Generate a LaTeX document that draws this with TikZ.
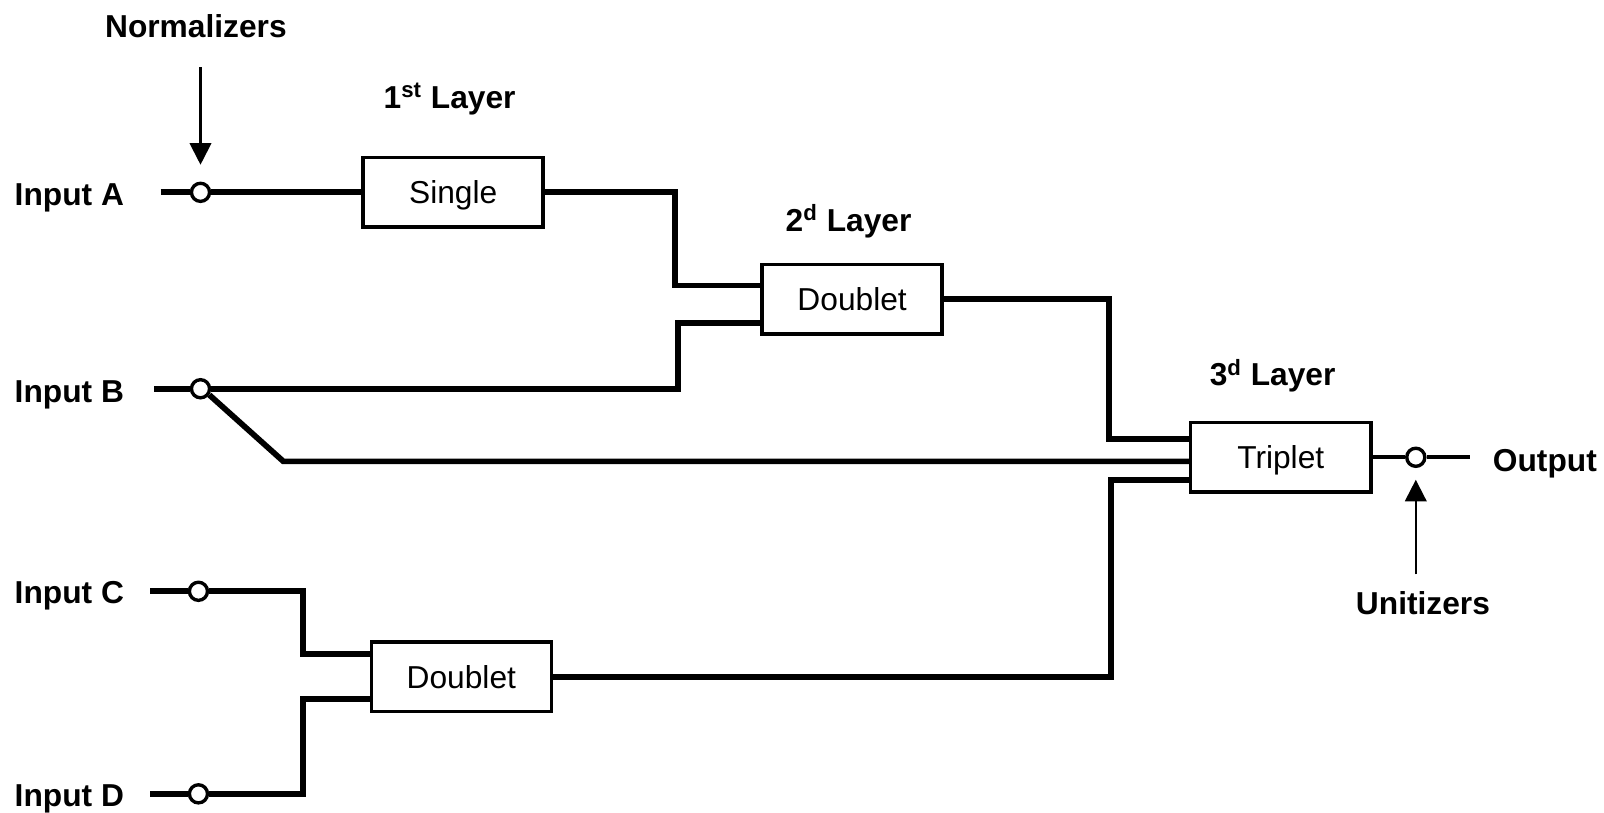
\documentclass[tikz,border=0pt]{standalone}
\usepackage{fontspec}
\setmainfont{Liberation Sans}
\usetikzlibrary{arrows.meta,calc}
\begin{document}
\begin{tikzpicture}[x=0.5pt,y=-0.5pt,
  wire/.style={line width=2.8pt},
  thinwire/.style={line width=1.8pt},
  block/.style={draw,line width=1.7pt,minimum width=88pt,minimum height=34pt,
    inner sep=0pt,text height=11.1pt,text depth=0pt,font=\fontsize{15.5}{18}\selectfont},
  port/.style={circle,draw,line width=1.65pt,fill=white,minimum size=8.85pt,inner sep=0pt},
  lbl/.style={font=\fontsize{15.5}{18}\selectfont\bfseries,inner sep=0pt,
    text height=11.1pt,text depth=0pt},
  pointer/.style={line width=1pt,-{Triangle[width=10.5pt,length=10.5pt]}}
]
\useasboundingbox (0,0) rectangle (1568,794);

% processing blocks
\node[block] (single) at (443,188)   {Single};
\node[block] (dblA)   at (833,292.5) {Doublet};
\node[block] (trip)   at (1252,447)  {Triplet};
\node[block] (dblB)   at (451,661.5) {Doublet};

% normalizer / unitizer ports
\node[port] (pA) at (196,188) {};
\node[port] (pB) at (196,380) {};
\node[port] (pC) at (194,578) {};
\node[port] (pD) at (194,776) {};
\node[port] (pO) at (1384,447) {};

% labels
\node[lbl,anchor=west] (inA) at (14,190) {Input A};
\node[lbl,anchor=west] (inB) at (14,382) {Input B};
\node[lbl,anchor=west] (inC) at (14,579) {Input C};
\node[lbl,anchor=west] (inD) at (14,777) {Input D};
\node[lbl,anchor=west] (out) at (1459,450) {Output};
\node[lbl] (norm) at (191.5,26) {Normalizers};
\node[lbl] (unit) at (1391,590) {Unitizers};
\node[lbl] (lay1) at (439.5,95) {1\textsuperscript{st} Layer};
\node[lbl] (lay2) at (829.5,215) {2\textsuperscript{d} Layer};
\node[lbl] (lay3) at (1244,366) {3\textsuperscript{d} Layer};

% free wire ends
\coordinate (sA) at (157,188);
\coordinate (sB) at (151,380);
\coordinate (sC) at (147,578);
\coordinate (sD) at (147,776);
\coordinate (eO) at (1437,447);

% input wires
\draw[wire] (sA) -- (pA);
\draw[wire] (sB) -- (pB);
\draw[wire] (sC) -- (pC);
\draw[wire] (sD) -- (pD);

% first layer
\draw[wire] (pA) -- (single);

% second layer
\draw[wire] (single.east) -| (660,279) -- ($(dblA.west)+(0,-13.5)$);
\draw[wire] (pB) -- (663,380) |- ($(dblA.west)+(0,23.5)$);
\draw[wire] (pC) -- (296,578) |- ($(dblB.west)+(0,-22.5)$);
\draw[wire] (pD) -- (296,776) |- ($(dblB.west)+(0,21.5)$);

% third layer
\draw[wire] (dblA.east) -| (1084,429) -- ($(trip.west)+(0,-18)$);
\draw[wire] (pB.-35) -- (277,451) -- ($(trip.west)+(0,4)$);
\draw[wire] (dblB.east) -| (1086,469) -- ($(trip.west)+(0,22)$);

% output
\draw[thinwire] (trip.east) -- (pO);
\draw[thinwire] (pO) -- (eO);

% pointers
\draw[pointer,shorten <=14pt,shorten >=8.25pt] (norm.south -| pA.north) -- (pA.north);
\draw[pointer,shorten <=8.5pt,shorten >=5.75pt] (unit.north -| pO.south) -- (pO.south);
\end{tikzpicture}
\end{document}
